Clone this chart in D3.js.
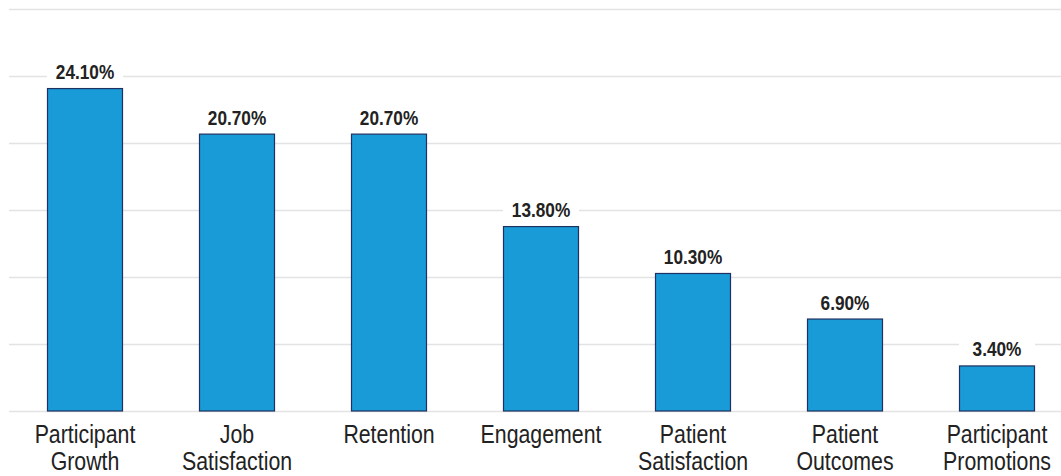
<!DOCTYPE html>
<html>
<head>
<meta charset="utf-8">
<script src="https://cdn.jsdelivr.net/npm/d3@7/dist/d3.min.js"></script>
<style>
  html, body { margin: 0; padding: 0; background: #fff; }
  svg { display: block; }
  .val { font-family: "Liberation Sans", Arial, sans-serif; font-weight: bold; font-size: 21px; fill: #222; }
  .cat { font-family: "Liberation Sans", Arial, sans-serif; font-size: 26px; fill: #222; }
</style>
</head>
<body>
<svg id="chart" width="1061" height="476"></svg>
<script>
// Outcome categories (two-line labels) and their percentages
const categories = [
  ["Participant", "Growth"],
  ["Job", "Satisfaction"],
  ["Retention"],
  ["Engagement"],
  ["Patient", "Satisfaction"],
  ["Patient", "Outcomes"],
  ["Participant", "Promotions"]
];
const values = [24.1, 20.7, 20.7, 13.8, 10.3, 6.9, 3.4];
const gridTicks = [0, 5, 10, 15, 20, 25, 30];

const svg = d3.select("#chart");
const margin = { left: 9, right: -12, top: 9, bottom: 65 };
const W = 1061, H = 476;
const narrow = 0.82; // horizontal squeeze for a condensed look

const keys = categories.map(c => c.join(" "));
const x = d3.scaleBand()
  .domain(keys)
  .range([margin.left, W - margin.right])
  .paddingInner(0.5)
  .paddingOuter(0.25);

const y = d3.scaleLinear()
  .domain([0, 30])
  .range([H - margin.bottom, margin.top]);

// Horizontal gridlines
svg.append("g")
  .selectAll("line")
  .data(gridTicks)
  .join("line")
  .attr("x1", margin.left)
  .attr("x2", W)
  .attr("y1", d => Math.round(y(d)) + 0.5)
  .attr("y2", d => Math.round(y(d)) + 0.5)
  .attr("stroke", "#e3e3e3")
  .attr("stroke-width", 1.3);

const data = keys.map((k, i) => ({ key: k, lines: categories[i], value: values[i] }));
const cx = d => x(d.key) + x.bandwidth() / 2;

// Bars
svg.append("g")
  .selectAll("rect")
  .data(data)
  .join("rect")
  .attr("x", d => x(d.key) + 0.5)
  .attr("y", d => y(d.value) + 0.5)
  .attr("width", x.bandwidth() - 1)
  .attr("height", d => y(0) - y(d.value) - 0.5)
  .attr("fill", "#199bd7")
  .attr("stroke", "#1f3160")
  .attr("stroke-width", 1.2);

// Value labels on white backing
const lab = svg.append("g").selectAll("g").data(data).join("g");
lab.append("rect")
  .attr("x", d => x(d.key))
  .attr("y", d => y(d.value) - 29)
  .attr("width", x.bandwidth())
  .attr("height", 23)
  .attr("fill", "#fff");
lab.append("text")
  .attr("class", "val")
  .attr("text-anchor", "middle")
  .attr("transform", d => `translate(${cx(d)},${y(d.value) - 9}) scale(${narrow},1)`)
  .text(d => d.value.toFixed(2) + "%");

// Category labels
const cat = svg.append("g").selectAll("text").data(data).join("text")
  .attr("class", "cat")
  .attr("text-anchor", "middle")
  .attr("transform", d => `translate(${cx(d)},443) scale(${narrow},1)`);
cat.selectAll("tspan")
  .data(d => d.lines.map((l, i) => ({ l, i })))
  .join("tspan")
  .attr("x", 0)
  .attr("dy", t => t.i === 0 ? 0 : 27)
  .text(t => t.l);
</script>
</body>
</html>
